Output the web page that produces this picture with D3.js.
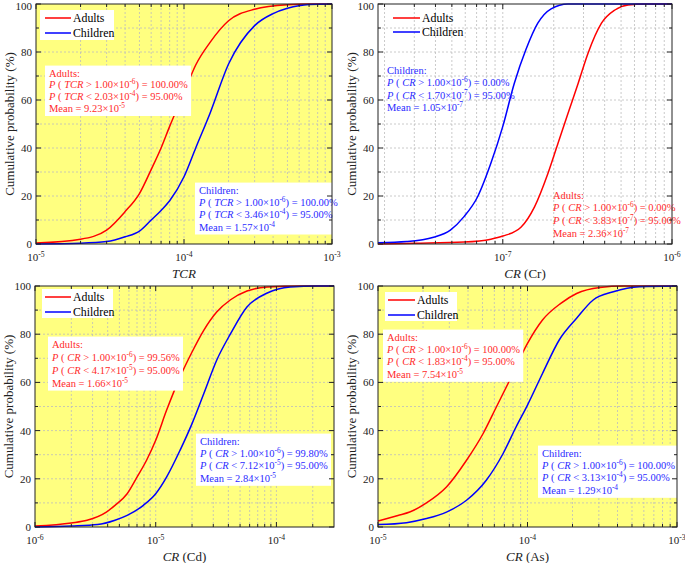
<!DOCTYPE html>
<html><head><meta charset="utf-8">
<script src="https://cdn.jsdelivr.net/npm/d3@7"></script>
<style>body{margin:0;background:#fff}svg{display:block}text{font-family:"Liberation Serif","Times New Roman",serif}</style>
</head><body><svg id="c" width="685" height="563"></svg>
<script>
// ---------- DATA ----------
const seriesNames = ["Adults", "Children"];
const yTickValues = [0, 20, 40, 60, 80, 100];

// Panel TCR
const tcrAdultsX = [1e-5, 2e-5, 3e-5, 4e-5, 5e-5, 6e-5, 7e-5, 8e-5, 1e-4, 1.2e-4, 1.5e-4, 2e-4, 3e-4, 5e-4, 7e-4, 1e-3];
const tcrAdultsP = [0.4, 2, 5.8, 13.5, 21, 31, 40, 49, 63, 74.6, 84, 93, 97.8, 99.7, 100, 100];
const tcrChildrenX = [1e-5, 2e-5, 3e-5, 4e-5, 5e-5, 6e-5, 7e-5, 8e-5, 1e-4, 1.2e-4, 1.5e-4, 2e-4, 3e-4, 4e-4, 5e-4, 7e-4, 1e-3];
const tcrChildrenP = [0, 0.3, 1, 3, 5.4, 10, 14, 18, 28, 40, 54.5, 75, 91, 96, 98.2, 99.8, 100];

// Panel CR (Cr)
const crAdultsX = [1.83e-8, 3e-8, 5.9e-8, 8.5e-8, 1e-7, 1.28e-7, 1.54e-7, 1.85e-7, 2.12e-7, 2.43e-7, 2.79e-7, 3.19e-7, 3.83e-7, 4.6e-7, 5.5e-7, 7e-7, 1e-6];
const crAdultsP = [0, 0.3, 0.8, 2, 3.3, 7, 15.5, 29.5, 42, 54.5, 67, 79.5, 92, 97.5, 99.6, 100, 100];
const crChildrenX = [1.83e-8, 2.7e-8, 3.9e-8, 4.9e-8, 5.9e-8, 7.1e-8, 8.5e-8, 1e-7, 1.17e-7, 1.37e-7, 1.61e-7, 1.93e-7, 2.43e-7, 4e-7, 1e-6];
const crChildrenP = [0.5, 1, 2.8, 5.8, 11.4, 19.7, 33.6, 49, 67, 81, 92, 98, 100, 100, 100];

// Panel CR (Cd)
const cdAdultsX = [1e-6, 2e-6, 2.7e-6, 3.9e-6, 4.6e-6, 5.8e-6, 7e-6, 8.4e-6, 1e-5, 1.23e-5, 1.59e-5, 2e-5, 2.5e-5, 3.2e-5, 4.17e-5, 5.7e-5, 8.4e-5, 1.6e-4, 3e-4];
const cdAdultsP = [0.4, 1.7, 2.8, 6.2, 9, 13.8, 20.7, 27.7, 36, 48.4, 62.2, 72.6, 81.6, 89.2, 94.3, 97.9, 99.6, 100, 100];
const cdChildrenX = [1e-6, 2e-6, 3.3e-6, 4.6e-6, 5.8e-6, 7.9e-6, 1e-5, 1.23e-5, 1.59e-5, 2e-5, 2.5e-5, 3.2e-5, 4.17e-5, 5.7e-5, 8.4e-5, 1.3e-4, 2.2e-4, 3e-4];
const cdChildrenP = [0, 0.4, 1, 2.8, 4.8, 9, 13.8, 20.7, 31.8, 42.9, 55.3, 69.2, 80.2, 91.3, 97.1, 99.6, 100, 100];

// Panel CR (As)
const asAdultsX = [1e-5, 1.36e-5, 1.63e-5, 2.11e-5, 2.87e-5, 3.91e-5, 5.05e-5, 6.2e-5, 7.6e-5, 1e-4, 1.26e-4, 1.67e-4, 2.13e-4, 3.05e-4, 4.4e-4, 1e-3];
const asAdultsP = [2.5, 4.8, 6.2, 10, 16.6, 27.7, 38.8, 49.9, 60.9, 76.2, 85.9, 92.8, 96.9, 99.4, 100, 100];
const asChildrenX = [1e-5, 1.55e-5, 2.11e-5, 2.87e-5, 3.91e-5, 5.3e-5, 6.87e-5, 8.4e-5, 1e-4, 1.26e-4, 1.63e-4, 2.13e-4, 2.75e-4, 3.75e-4, 5.6e-4, 1e-3];
const asChildrenP = [1, 1.8, 3.5, 6.2, 11.1, 19.4, 30.5, 41.6, 50.6, 63.7, 77.6, 86.6, 94.2, 97.6, 99.7, 100];

// Annotation texts (*...* italic, ^{..} superscript)
const tcrAdultsNote = ["Adults:", "*P* ( *TCR* > 1.00×10^{-6}) = 100.00%", "*P* ( *TCR* < 2.03×10^{-4}) = 95.00%", "Mean = 9.23×10^{-5}"];
const tcrChildrenNote = ["Children:", "*P* ( *TCR* > 1.00×10^{-6}) = 100.00%", "*P* ( *TCR* < 3.46×10^{-4}) = 95.00%", "Mean = 1.57×10^{-4}"];
const crChildrenNote = ["Children:", "*P* ( *CR* > 1.00×10^{-6}) = 0.00%", "*P* ( *CR* < 1.70×10^{-7}) = 95.00%", "Mean = 1.05×10^{-7}"];
const crAdultsNote = ["Adults:", "*P* ( *CR* > 1.00×10^{-6}) = 0.00%", "*P* ( *CR* < 3.83×10^{-7}) = 95.00%", "Mean = 2.36×10^{-7}"];
const cdAdultsNote = ["Adults:", "*P* ( *CR* > 1.00×10^{-6}) = 99.56%", "*P* ( *CR* < 4.17×10^{-5}) = 95.00%", "Mean = 1.66×10^{-5}"];
const cdChildrenNote = ["Children:", "*P* ( *CR* > 1.00×10^{-6}) = 99.80%", "*P* ( *CR* < 7.12×10^{-5}) = 95.00%", "Mean = 2.84×10^{-5}"];
const asAdultsNote = ["Adults:", "*P* ( *CR* > 1.00×10^{-6}) = 100.00%", "*P* ( *CR* < 1.83×10^{-4}) = 95.00%", "Mean = 7.54×10^{-5}"];
const asChildrenNote = ["Children:", "*P* ( *CR* > 1.00×10^{-6}) = 100.00%", "*P* ( *CR* < 3.13×10^{-4}) = 95.00%", "Mean = 1.29×10^{-4}"];

const xTitles = ["*TCR*", "*CR* (Cr)", "*CR* (Cd)", "*CR* (As)"];
const yTitle = "Cumulative probability (%)";

// ---------- STYLE / LAYOUT ----------
const RED = "#ff0000", BLUE = "#0000ff", RED_T = "#ff2a2a", BLUE_T = "#2a2aff";
const YELLOW = "#ffff80";
const svg = d3.select("#c");

const panels = [
  {x0:36, x1:332, y0:4, y1:244, domain:[1e-5,1e-3], bg:YELLOW, title:xTitles[0],
   a:[tcrAdultsX,tcrAdultsP], c:[tcrChildrenX,tcrChildrenP],
   legend:{box:[40,10,74,30], lx:[45,71], ly:[18,33]},
   notes:[{t:tcrAdultsNote,col:RED_T,x:49,y:73,dy:11.8,box:true},{t:tcrChildrenNote,col:BLUE_T,x:199,y:190,dy:12.3,box:true}]},
  {x0:378, x1:672, y0:4, y1:244, domain:[1.83e-8,1e-6], bg:"#ffffff", title:xTitles[1],
   a:[crAdultsX,crAdultsP], c:[crChildrenX,crChildrenP],
   legend:{box:null, lx:[393,420], ly:[18,32]},
   notes:[{t:crChildrenNote,col:BLUE_T,x:387,y:70,dy:12.5,box:false},{t:crAdultsNote,col:RED_T,x:553,y:195,dy:12.7,box:false}]},
  {x0:35, x1:334, y0:286, y1:527, domain:[1e-6,3e-4], bg:YELLOW, title:xTitles[2],
   a:[cdAdultsX,cdAdultsP], c:[cdChildrenX,cdChildrenP],
   legend:{box:[42,289,71,29], lx:[45,71], ly:[297,312]},
   notes:[{t:cdAdultsNote,col:RED_T,x:52,y:344,dy:13,box:true},{t:cdChildrenNote,col:BLUE_T,x:200,y:441,dy:12.4,box:true}]},
  {x0:378, x1:677, y0:286, y1:527, domain:[1e-5,1e-3], bg:YELLOW, title:xTitles[3],
   a:[asAdultsX,asAdultsP], c:[asChildrenX,asChildrenP],
   legend:{box:[385,292,72,29], lx:[388,415], ly:[300,315]},
   notes:[{t:asAdultsNote,col:RED_T,x:387,y:337,dy:12.4,box:true},{t:asChildrenNote,col:BLUE_T,x:542,y:453,dy:12.4,box:true}]}
];

function richText(sel, str, size) {
  const parts = str.split(/(\*[^*]+\*|\^\{[^}]+\})/).filter(s => s.length);
  let raised = false;
  parts.forEach(p => {
    const ts = sel.append("tspan");
    if (p.startsWith("^{")) {
      ts.text(p.slice(2, -1)).attr("font-size", size * 0.7).attr("dy", -size * 0.38);
      raised = true;
    } else {
      if (raised) { ts.attr("dy", size * 0.38); raised = false; }
      if (p.startsWith("*")) ts.text(p.slice(1, -1)).attr("font-style", "italic");
      else ts.text(p);
    }
  });
}

panels.forEach(P => {
  const x = d3.scaleLog().domain(P.domain).range([P.x0, P.x1]);
  const y = d3.scaleLinear().domain([0, 100]).range([P.y1, P.y0]);
  const g = svg.append("g");
  g.append("rect").attr("x", P.x0).attr("y", P.y0).attr("width", P.x1 - P.x0).attr("height", P.y1 - P.y0).attr("fill", P.bg);

  const lo = Math.floor(Math.log10(P.domain[0])), hi = Math.ceil(Math.log10(P.domain[1]));
  const majors = [], minors = [];
  for (let e = lo; e <= hi; e++) {
    const b = Math.pow(10, e);
    if (b >= P.domain[0] * 0.999 && b <= P.domain[1] * 1.001) majors.push(b);
    for (let k = 2; k <= 9; k++) { const v = k * b; if (v > P.domain[0] && v < P.domain[1] * 0.999) minors.push(v); }
  }
  const gridCol = "#bdbdbd";
  g.selectAll(null).data(majors.concat(minors).filter(v => x(v) > P.x0 + 1 && x(v) < P.x1 - 1)).join("line")
    .attr("x1", d => x(d)).attr("x2", d => x(d)).attr("y1", P.y0).attr("y2", P.y1)
    .attr("stroke", gridCol).attr("stroke-width", 0.8).attr("stroke-dasharray", "2,2");
  g.selectAll(null).data(d3.range(10, 100, 10)).join("line")
    .attr("x1", P.x0).attr("x2", P.x1).attr("y1", d => y(d)).attr("y2", d => y(d))
    .attr("stroke", gridCol).attr("stroke-width", 0.8).attr("stroke-dasharray", "2,2");

  const lineGen = d3.line().x(d => x(d[0])).y(d => y(d[1])).curve(d3.curveMonotoneX);
  [[P.a, RED], [P.c, BLUE]].forEach(([s, col]) => {
    const pts = s[0].map((v, i) => [v, s[1][i]]);
    g.append("path").attr("d", lineGen(pts)).attr("fill", "none").attr("stroke", col).attr("stroke-width", 1.5);
  });

  P.notes.forEach(n => {
    const ng = g.append("g");
    const rect = ng.append("rect").attr("fill", "#fff");
    n.t.forEach((line, i) => {
      const t = ng.append("text").attr("x", n.x).attr("y", n.y + i * n.dy + 3.6).attr("font-size", 10.5).attr("fill", n.col);
      richText(t, line, 10.5);
    });
    if (n.box) {
      const bb = ng.node().getBBox();
      rect.attr("x", bb.x - 3).attr("y", bb.y - 2).attr("width", bb.width + 6).attr("height", bb.height + 4);
    } else rect.remove();
  });

  const L = P.legend;
  if (L.box) g.append("rect").attr("x", L.box[0]).attr("y", L.box[1]).attr("width", L.box[2]).attr("height", L.box[3]).attr("fill", "#fff");
  [[RED, seriesNames[0]], [BLUE, seriesNames[1]]].forEach(([col, name], i) => {
    g.append("line").attr("x1", L.lx[0]).attr("x2", L.lx[1]).attr("y1", L.ly[i]).attr("y2", L.ly[i]).attr("stroke", col).attr("stroke-width", 1.5);
    g.append("text").attr("x", L.lx[1] + 2).attr("y", L.ly[i] + 4).attr("font-size", 11.8).text(name);
  });

  g.append("rect").attr("x", P.x0).attr("y", P.y0).attr("width", P.x1 - P.x0).attr("height", P.y1 - P.y0)
    .attr("fill", "none").attr("stroke", "#222").attr("stroke-width", 1);

  const tk = (vals, len) => {
    g.selectAll(null).data(vals).join("line").attr("x1", d => x(d)).attr("x2", d => x(d))
      .attr("y1", P.y1).attr("y2", P.y1 - len).attr("stroke", "#222");
    g.selectAll(null).data(vals).join("line").attr("x1", d => x(d)).attr("x2", d => x(d))
      .attr("y1", P.y0).attr("y2", P.y0 + len).attr("stroke", "#222");
  };
  tk(majors, 5); tk(minors, 3);
  const ytk = (vals, len) => {
    g.selectAll(null).data(vals).join("line").attr("x1", P.x0).attr("x2", P.x0 + len)
      .attr("y1", d => y(d)).attr("y2", d => y(d)).attr("stroke", "#222");
    g.selectAll(null).data(vals).join("line").attr("x1", P.x1).attr("x2", P.x1 - len)
      .attr("y1", d => y(d)).attr("y2", d => y(d)).attr("stroke", "#222");
  };
  ytk(yTickValues, 5); ytk(d3.range(10, 100, 20), 3);

  g.selectAll(null).data(yTickValues).join("text").attr("x", P.x0 - 4).attr("y", d => Math.max(y(d) + 4, 10))
    .attr("text-anchor", "end").attr("font-size", 11).attr("fill", "#222").text(d => d);
  majors.forEach(v => {
    const t = g.append("text").attr("x", x(v)).attr("y", P.y1 + 17).attr("text-anchor", "middle").attr("font-size", 11).attr("fill", "#222");
    richText(t, "10^{" + Math.round(Math.log10(v)) + "}", 11);
  });
  const xt = g.append("text").attr("x", (P.x0 + P.x1) / 2).attr("y", P.y1 + 34).attr("text-anchor", "middle").attr("font-size", 13).attr("fill", "#222");
  richText(xt, P.title, 13);
  g.append("text").attr("transform", `translate(${P.x0 - 22},${(P.y0 + P.y1) / 2}) rotate(-90)`)
    .attr("text-anchor", "middle").attr("font-size", 13).attr("fill", "#222").text(yTitle);
});
</script></body></html>
